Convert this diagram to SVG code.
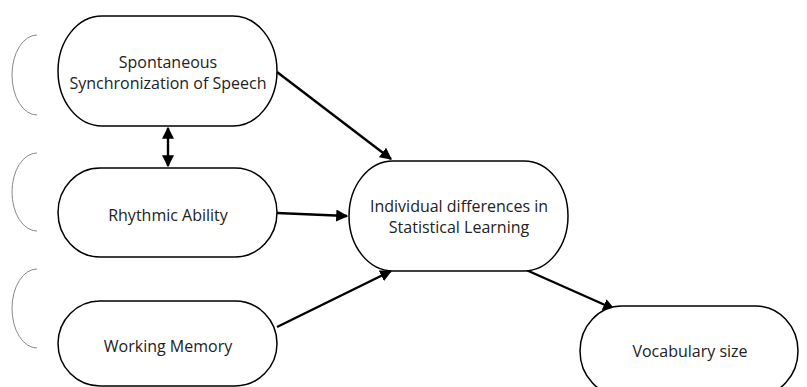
<svg xmlns="http://www.w3.org/2000/svg" width="807" height="387" viewBox="0 0 807 387">
<style>
.node{fill:#fff;stroke:#000;stroke-width:1.5}
.lbl{font-family:"Open Sans","Noto Sans",sans-serif;font-size:16px;fill:#222;text-anchor:middle}
.arc{fill:none;stroke:#888;stroke-width:1}
.edge{stroke:#000;stroke-width:2.4;fill:none}
</style>
<defs>
<marker id="ah" viewBox="0 0 10 10" refX="9" refY="5" markerWidth="5" markerHeight="5" orient="auto-start-reverse" markerUnits="strokeWidth">
<path d="M0,0 L10,5 L0,10 z" fill="#000"/>
</marker>
</defs>
<rect width="807" height="387" fill="#fff"/>
<g id="arcs">
<path class="arc" d="M37,35 A25,40 0 0 0 37,115"/>
<path class="arc" d="M37,153 A25,39 0 0 0 37,231"/>
<path class="arc" d="M37,269 A25,39.5 0 0 0 37,348"/>
</g>
<g id="connectors">
<line class="edge" x1="277" y1="72" x2="391" y2="159" marker-end="url(#ah)"/>
<line class="edge" x1="168" y1="128" x2="168" y2="166" marker-start="url(#ah)" marker-end="url(#ah)"/>
<line class="edge" x1="277" y1="213" x2="347" y2="216" marker-end="url(#ah)"/>
<line class="edge" x1="277" y1="327" x2="391" y2="271" marker-end="url(#ah)"/>
<line class="edge" x1="524" y1="269" x2="614" y2="309" marker-end="url(#ah)"/>
</g>
<g id="n1">
<rect class="node" x="58" y="16" width="219" height="110" rx="44" ry="55"/>
<text class="lbl" x="168" y="68">Spontaneous</text>
<text class="lbl" x="168" y="89">Synchronization of Speech</text>
</g>
<g id="n2">
<rect class="node" x="58" y="168" width="219" height="89" rx="42" ry="44.5"/>
<text class="lbl" x="168" y="221">Rhythmic Ability</text>
</g>
<g id="n3">
<rect class="node" x="58" y="301" width="219" height="85" rx="42" ry="42.5"/>
<text class="lbl" x="168" y="352">Working Memory</text>
</g>
<g id="n4">
<rect class="node" x="349" y="161" width="219" height="110" rx="44" ry="55"/>
<text class="lbl" x="459" y="212">Individual differences in</text>
<text class="lbl" x="459" y="233">Statistical Learning</text>
</g>
<g id="n5">
<rect class="node" x="580" y="306" width="218" height="90" rx="42" ry="45"/>
<text class="lbl" x="690" y="357">Vocabulary size</text>
</g>
</svg>
